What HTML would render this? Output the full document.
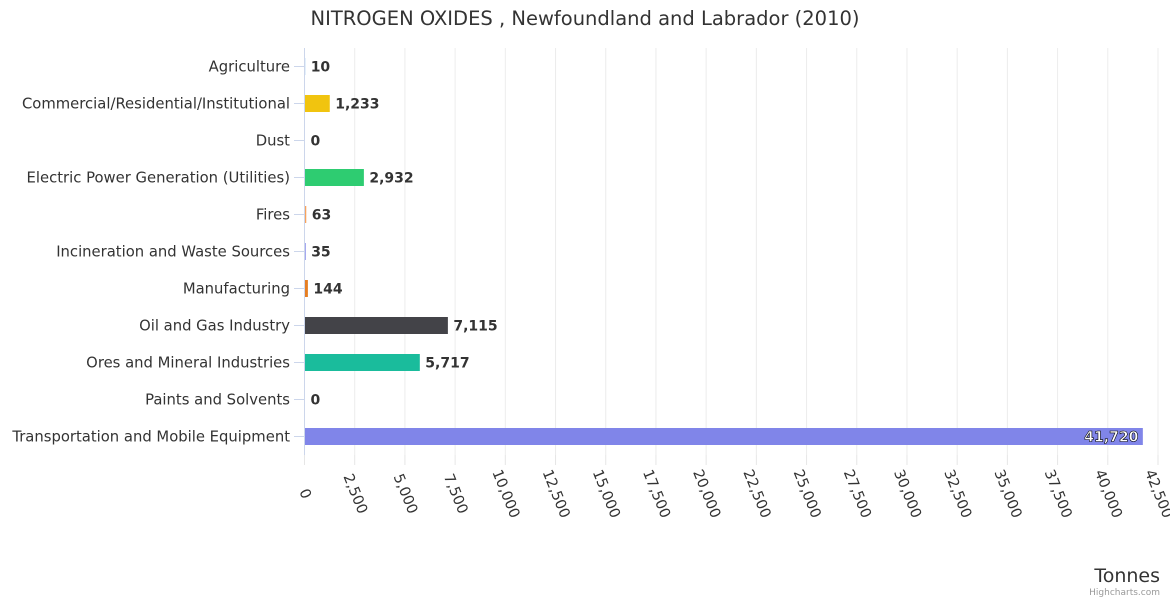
<!DOCTYPE html>
<html><head><meta charset="utf-8"><style>
body{margin:0;background:#fff;width:1170px;height:600px;overflow:hidden;font-family:"DejaVu Sans","Liberation Sans",sans-serif}
svg text{font-family:"DejaVu Sans","Liberation Sans",sans-serif}
</style></head><body>
<svg id="chart" width="1170" height="600" xmlns="http://www.w3.org/2000/svg">
<text x="585" y="25" text-anchor="middle" font-size="19.5" fill="#333">NITROGEN OXIDES , Newfoundland and Labrador (2010)</text>
<g id="grid"></g><g id="bars"></g><g id="labels"></g>
<text x="1160" y="582" text-anchor="end" font-size="19" fill="#333">Tonnes</text>
<text x="1160" y="595" text-anchor="end" font-size="9" fill="#999">Highcharts.com</text>
</svg>
<script>
const categories=["Agriculture","Commercial/Residential/Institutional","Dust","Electric Power Generation (Utilities)","Fires","Incineration and Waste Sources","Manufacturing","Oil and Gas Industry","Ores and Mineral Industries","Paints and Solvents","Transportation and Mobile Equipment"];
const values=[10,1233,0,2932,63,35,144,7115,5717,0,41720];
const colors=["#7cb5ec","#f1c40f","#90ed7d","#2ecc71","#f7a35c","#8085e9","#e67e22","#434348","#1abc9c","#e4d354","#8085e9"];
const ticks=[0,2500,5000,7500,10000,12500,15000,17500,20000,22500,25000,27500,30000,32500,35000,37500,40000,42500];
const NS="http://www.w3.org/2000/svg";
const x0=304.5,xMax=42500,pw=853.5,plotTop=48,band=37;
const xs=v=>x0+v/xMax*pw;
const yc=i=>plotTop+band*i+band/2;
function mk(t,a,p){const e=document.createElementNS(NS,t);for(const k in a)e.setAttribute(k,a[k]);p.appendChild(e);return e;}
const g=document.getElementById('grid'),b=document.getElementById('bars'),l=document.getElementById('labels');
ticks.forEach(t=>{
 const x=xs(t);
 const gl=mk('line',{x1:x,x2:x,y1:plotTop,y2:455,stroke:t===0?'#ccd6eb':'#ececec','stroke-width':1},g);
 
 
 mk('line',{x1:x,x2:x,y1:455,y2:465,stroke:'#e6e6e6'},g);
 const tx=mk('text',{x:0,y:0,transform:`translate(${x},494) rotate(68)`,'text-anchor':'middle','dominant-baseline':'middle','font-size':14.5,fill:'#333'},l);
 tx.textContent=t.toLocaleString('en-US');
 
 
});
categories.forEach((c,i)=>{
 const y=yc(i);
 mk('line',{x1:294,x2:304,y1:y,y2:y,stroke:'#ccd6eb'},g);
 const ct=mk('text',{x:290,y:y+5,'text-anchor':'end','font-size':14.8,fill:'#333'},l);
 ct.textContent=c;
 
 
 const w=xs(values[i])-x0;
 const r=mk('rect',{x:x0+0.5,y:y-8.5,width:Math.max(w,0),height:17,fill:colors[i]},b);
 
 
 const inside=w>700;
 const vt=mk('text',{x:inside?x0+w-4:x0+w+6,y:y+5,'text-anchor':inside?'end':'start','font-size':14,'font-weight':'bold',fill:inside?'#fff':'#333',stroke:inside?'#000':'none','stroke-width':inside?0.6:0},l);
 vt.textContent=values[i].toLocaleString('en-US');
 
 
});
</script>
</body></html>
